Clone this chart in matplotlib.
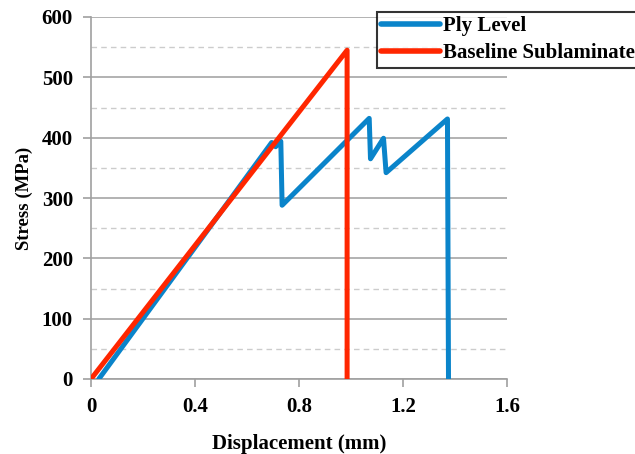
import matplotlib
matplotlib.use("Agg")
import matplotlib.pyplot as plt
from matplotlib.ticker import MultipleLocator

ply_x = [0.03, 0.695, 0.71, 0.73, 0.735, 1.07, 1.075, 1.125, 1.135, 1.371, 1.375]
ply_y = [0, 392, 385, 394, 288, 432, 365, 399, 342, 431, 0]
base_x = [0.0, 0.985, 0.985]
base_y = [0, 545, 0]
x_ticks = [0, 0.4, 0.8, 1.2, 1.6]
x_tick_labels = ["0", "0.4", "0.8", "1.2", "1.6"]
y_ticks = [0, 100, 200, 300, 400, 500, 600]

plt.rcParams['font.family'] = ['Liberation Serif', 'DejaVu Serif']
plt.rcParams['font.weight'] = 'bold'

fig = plt.figure(figsize=(6.35, 4.54), dpi=100)
ax = fig.add_axes([91/635, 1-379/454, 416/635, 362/454])

ax.plot(ply_x, ply_y, color='#0A84CA', lw=3.6, solid_capstyle='round', solid_joinstyle='round', label='Ply Level', zorder=3)
ax.plot(base_x, base_y, color='#FF2600', lw=3.6, solid_capstyle='butt', solid_joinstyle='round', label='Baseline Sublaminate', zorder=4)

ax.set_xlim(0, 1.6)
ax.set_ylim(0, 600)
ax.set_xticks(x_ticks)
ax.set_xticklabels(x_tick_labels)
ax.set_yticks(y_ticks)
ax.yaxis.set_minor_locator(MultipleLocator(50))
ax.grid(axis='y', which='major', color='#A6A6A6', lw=1.2, zorder=0)
ax.grid(axis='y', which='minor', color='#CCCCCC', lw=1.0, ls=(0, (4, 3)), zorder=0)
ax.set_axisbelow(True)

for s in ['top', 'right']:
    ax.spines[s].set_visible(False)
for s in ['left', 'bottom']:
    ax.spines[s].set_color('#A0A0A0')
    ax.spines[s].set_linewidth(1.2)
ax.tick_params(axis='both', which='major', direction='out', length=6, width=1.2, color='#A0A0A0',
               labelsize=15, pad=7)
ax.tick_params(axis='y', which='major', pad=7)
ax.tick_params(axis='y', which='minor', length=0)
for lab in ax.get_xticklabels() + ax.get_yticklabels():
    lab.set_fontweight('bold')

ax.set_xlabel('Displacement (mm)', fontsize=15, fontweight='bold', labelpad=12)
ax.set_ylabel('Stress (MPa)', fontsize=13.5, fontweight='bold', labelpad=6)

leg = fig.legend(loc='upper left', bbox_to_anchor=(377/635, 1-12/454), frameon=True, fancybox=False,
                 edgecolor='black', fontsize=15, handlelength=2.8, handletextpad=0.15,
                 borderpad=0.2, labelspacing=0.35, borderaxespad=0)
leg.get_frame().set_linewidth(1.5)
for line in leg.get_lines():
    line.set_linewidth(4)
    line.set_solid_capstyle('round')
for t in leg.get_texts():
    t.set_fontweight('bold')

fig.savefig('out.png', dpi=100)
